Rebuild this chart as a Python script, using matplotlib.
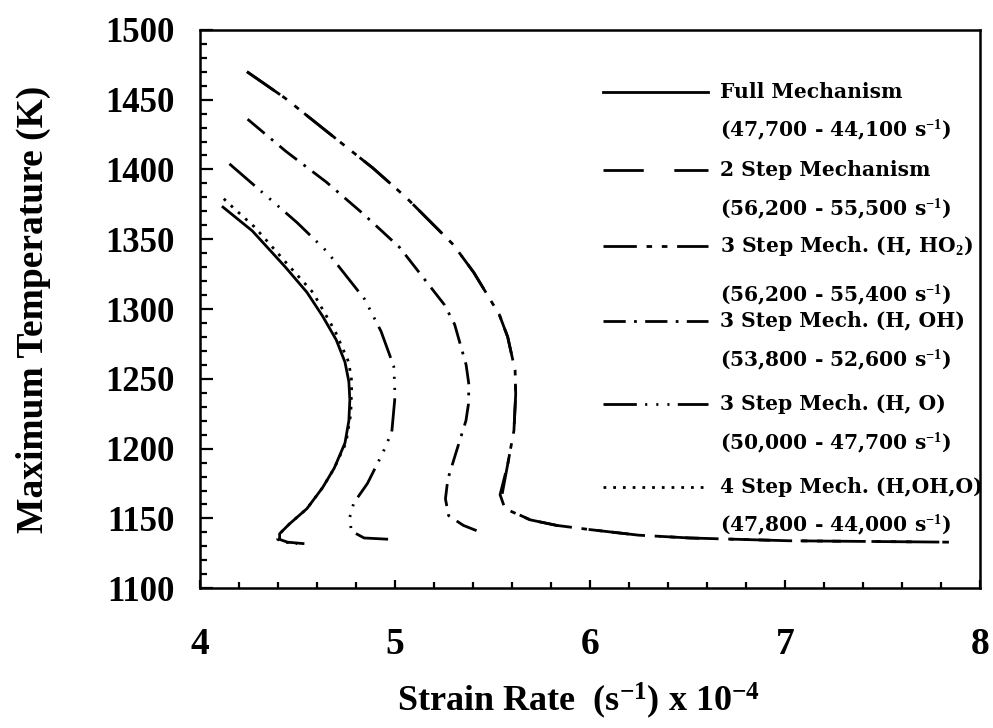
import matplotlib.pyplot as plt
from matplotlib.ticker import MultipleLocator

plt.rcParams['font.family'] = 'Liberation Serif'
plt.rcParams['font.weight'] = 'bold'
plt.rcParams['axes.labelweight'] = 'bold'
plt.rcParams['mathtext.fontset'] = 'custom'
plt.rcParams['mathtext.rm'] = 'Liberation Serif:bold'
plt.rcParams['mathtext.bf'] = 'Liberation Serif:bold'
plt.rcParams['mathtext.default'] = 'bf'
plt.rcParams['lines.scale_dashes'] = False

# strain rate (x 1e-4 s^-1) vs maximum flame temperature (K)
full_x = [4.12, 4.27, 4.44, 4.55, 4.63, 4.70, 4.745, 4.765, 4.77, 4.765, 4.745, 4.69, 4.63, 4.55, 4.46, 4.41, 4.41, 4.45, 4.53]
full_T = [1373, 1356, 1330, 1312, 1295, 1278, 1262, 1248, 1235, 1220, 1204, 1186, 1172, 1157, 1146, 1139, 1135, 1133, 1132]

step2_x = [4.243, 4.439, 4.645, 4.888, 5.058, 5.301, 5.406, 5.536, 5.579, 5.617, 5.62, 5.611, 5.578, 5.55, 5.57, 5.694, 5.83, 6.0, 6.25, 6.51, 7.02, 7.84]
step2_T = [1470, 1451, 1428, 1401, 1380, 1346, 1326, 1296, 1280, 1256, 1239, 1213, 1188, 1167, 1157, 1149, 1145, 1142, 1138, 1136, 1134, 1133]

ho2_x = [4.243, 4.439, 4.645, 4.888, 5.058, 5.301, 5.406, 5.536, 5.579, 5.617, 5.62, 5.611, 5.578, 5.54, 5.565, 5.694, 5.83, 6.0, 6.25, 6.51, 7.02, 7.84]
ho2_T = [1470, 1451, 1428, 1401, 1380, 1346, 1326, 1296, 1280, 1256, 1239, 1213, 1188, 1167, 1157, 1149, 1145, 1142, 1138, 1136, 1134, 1133]

oh_x = [4.246, 4.442, 4.649, 4.84, 5.026, 5.255, 5.307, 5.366, 5.38, 5.378, 5.365, 5.316, 5.272, 5.26, 5.276, 5.352, 5.424]
oh_T = [1436, 1413, 1391, 1368, 1344, 1303, 1289, 1260, 1246, 1232, 1220, 1198, 1178, 1164, 1152, 1145, 1141]

o_x = [4.153, 4.277, 4.499, 4.654, 4.846, 4.93, 4.995, 5.00, 5.00, 4.985, 4.939, 4.86, 4.79, 4.77, 4.777, 4.843, 4.981]
o_T = [1404, 1389, 1362, 1341, 1307, 1284, 1259, 1245, 1235, 1212, 1197, 1175, 1161, 1151, 1141, 1136, 1135]

step4_x = [4.124, 4.177, 4.28, 4.363, 4.451, 4.58, 4.695, 4.764, 4.78, 4.775, 4.75, 4.69, 4.63, 4.55, 4.46, 4.41, 4.40, 4.44, 4.50]
step4_T = [1379, 1372, 1359, 1346, 1332, 1312, 1284, 1262, 1248, 1225, 1204, 1186, 1172, 1157, 1146, 1139, 1135, 1133, 1132]

labels = [
    ('Full Mechanism', '(47,700 - 44,100 s$^{-1}$)'),
    ('2 Step Mechanism', '(56,200 - 55,500 s$^{-1}$)'),
    ('3 Step Mech. (H, HO$_2$)', '(56,200 - 55,400 s$^{-1}$)'),
    ('3 Step Mech. (H, OH)', '(53,800 - 52,600 s$^{-1}$)'),
    ('3 Step Mech. (H, O)', '(50,000 - 47,700 s$^{-1}$)'),
    ('4 Step Mech. (H,OH,O)', '(47,800 - 44,000 s$^{-1}$)'),
]

series = [
    (full_x, full_T, dict(linestyle='-')),
    (step2_x, step2_T, dict(dashes=(29, 22))),
    (ho2_x, ho2_T, dict(dashes=(24, 7, 4, 7, 4, 7))),
    (oh_x, oh_T, dict(dashes=(16, 6, 2, 6))),
    (o_x, o_T, dict(dashes=(24, 6, 1.5, 6.5, 1.5, 6.5, 1.5, 6))),
    (step4_x, step4_T, dict(dashes=(2, 5))),
]

fig = plt.figure(figsize=(9.93, 7.28), dpi=100)
ax = fig.add_axes([0.201, 0.192, 0.786, 0.767])

for x, T, style in series:
    ax.plot(x, T, color='black', lw=2.0, **style)

ax.set_xlim(4, 8)
ax.set_ylim(1100, 1500)
ax.xaxis.set_major_locator(MultipleLocator(1))
ax.xaxis.set_minor_locator(MultipleLocator(0.2))
ax.yaxis.set_major_locator(MultipleLocator(50))
ax.yaxis.set_minor_locator(MultipleLocator(10))
ax.tick_params(which='both', direction='in', top=False, right=False, width=1.6)
ax.tick_params(axis='y', which='major', length=9, pad=18, labelsize=25)
ax.tick_params(axis='y', which='minor', length=5)
ax.tick_params(axis='x', which='major', length=6, pad=28, labelsize=27)
ax.tick_params(axis='x', which='minor', length=4)
for sp in ax.spines.values():
    sp.set_linewidth(1.8)

ax.set_xlabel('Strain Rate  (s$^{-1}$) x 10$^{-4}$', fontsize=26)
ax.set_ylabel('Maximum Temperature (K)', fontsize=27)
ax.xaxis.set_label_coords(0.486, -0.165)
ax.yaxis.set_label_coords(-0.19, 0.5)

# hand-built key: line sample beside the first text row
row_y = [0.889, 0.749, 0.613, 0.478, 0.330, 0.181]
row_gap = [0.068, 0.070, 0.088, 0.069, 0.070, 0.068]
for (top, bottom), (_, _, style), y, gap in zip(labels, series, row_y, row_gap):
    ax.plot([0.517, 0.651], [y, y], transform=ax.transAxes, color='black', lw=2.0, **style)
    ax.text(0.667, y, top, transform=ax.transAxes, fontsize=14.6, va='center',
            family='DejaVu Serif', fontweight='bold')
    ax.text(0.667, y - gap, bottom, transform=ax.transAxes, fontsize=14.6, va='center',
            family='DejaVu Serif', fontweight='bold')

fig.savefig('out.png', dpi=100)
